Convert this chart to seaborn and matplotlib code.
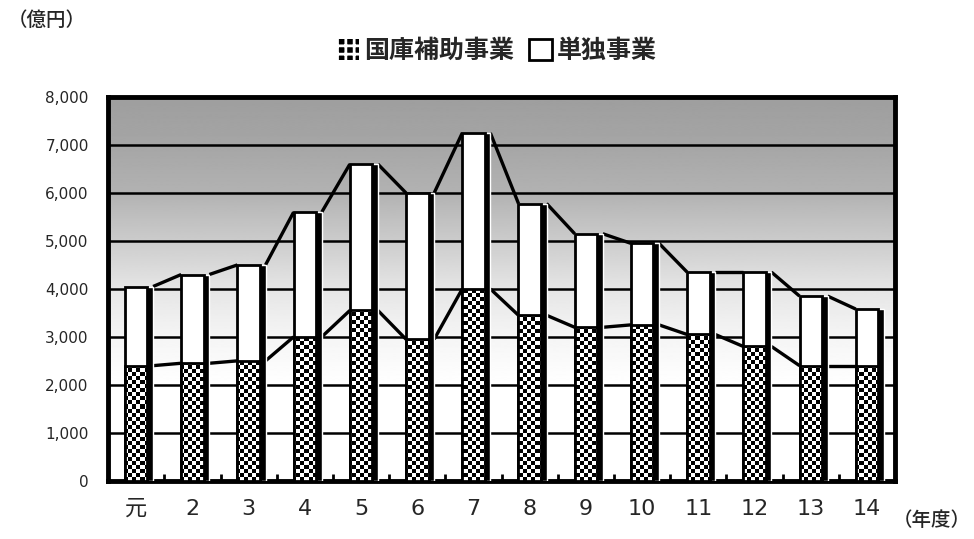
import numpy as np
import pandas as pd
import matplotlib
matplotlib.use("Agg")
import matplotlib.pyplot as plt
import seaborn as sns
from matplotlib.patches import Patch

# 年度別事業費（億円）
years = ["元", "2", "3", "4", "5", "6", "7", "8", "9", "10", "11", "12", "13", "14"]
subsidized = [2400, 2450, 2500, 3000, 3550, 2950, 4000, 3450, 3200, 3250, 3050, 2800, 2400, 2400]
independent = [1650, 1850, 2000, 2600, 3050, 3050, 3250, 2330, 1950, 1700, 1300, 1550, 1450, 1180]
y_ticks = [0, 1000, 2000, 3000, 4000, 5000, 6000, 7000, 8000]

sns.set_theme(style="white")
plt.rcParams["font.family"] = ["Noto Sans CJK JP", "DejaVu Sans"]
num_font = ["DejaVu Sans", "Noto Sans CJK JP"]

df = pd.DataFrame({"年度": years, "国庫補助事業": subsidized, "単独事業": independent})
df["合計"] = df["国庫補助事業"] + df["単独事業"]

fig = plt.figure(figsize=(9.74, 5.39), dpi=100)
ax = fig.add_axes([0.111, 0.108, 0.808, 0.712])

x = np.arange(len(years))
w = 0.40
shadow = 0.10
xlim = (-0.5, len(years) - 0.5)
ylim = (0, 8000)

# 合計（単独事業の上端）の白い棒と右側の影
ax.bar(x + shadow, df["合計"], width=w, color="black", zorder=3)
sns.barplot(data=df, x="年度", y="合計", color="white", saturation=1, width=w,
            edgecolor="black", linewidth=2, errorbar=None, ax=ax, zorder=4)

# 国庫補助事業：棒の中を市松模様で塗る
sns.barplot(data=df, x="年度", y="国庫補助事業", color="black", saturation=1, width=w,
            linewidth=0, errorbar=None, ax=ax, zorder=5)
sub_bars = ax.containers[-1]
cols, rows = 197, 96
checker = (np.add.outer(np.arange(rows), np.arange(cols)) % 2).astype(float)
for rect in sub_bars:
    im = ax.imshow(checker, extent=(*xlim, *ylim), origin="lower", aspect="auto",
                   cmap="gray", vmin=0, vmax=1, interpolation="nearest", zorder=5.5)
    im.set_clip_path(rect)
ax.bar(x, df["国庫補助事業"], width=w, fill=False, edgecolor="black", linewidth=2, zorder=6)

# 区分線
for series in (df["合計"].to_numpy(), df["国庫補助事業"].to_numpy()):
    for i in range(len(x) - 1):
        ax.plot([x[i] + w / 2 + shadow, x[i + 1] - w / 2], [series[i], series[i + 1]],
                color="black", lw=2.4, zorder=2, solid_capstyle="butt")

# 背景のグラデーション
levels_y = np.linspace(0, 8000, 400)
shade = np.interp(levels_y, [0, 2000, 3000, 4000, 5000, 6000, 7000, 8000],
                  [1.0, 1.0, 0.96, 0.9, 0.8, 0.7, 0.65, 0.62])
ax.imshow(shade[:, None], extent=(*xlim, *ylim), origin="lower", aspect="auto",
          cmap="gray", vmin=0, vmax=1, zorder=0.1, interpolation="bilinear")

ax.set_axisbelow(True)
ax.yaxis.grid(True, color="black", lw=1.8)
ax.xaxis.grid(False)

ax.set_xlim(*xlim)
ax.set_ylim(*ylim)
ax.set_yticks(y_ticks)
ax.set_yticklabels([f"{v:,}" for v in y_ticks], fontsize=11, family=num_font)
ax.set_xticks(x)
ax.set_xticklabels(years, fontsize=16, family=num_font)
ax.set_xticks(x[:-1] + 0.5, minor=True)
ax.tick_params(axis="x", which="major", length=0, pad=13)
ax.tick_params(axis="x", which="minor", direction="in", length=5, width=2, color="black", bottom=True)
ax.tick_params(axis="y", length=0, pad=14)
ax.set_xlabel("")
ax.set_ylabel("")
for s in ax.spines.values():
    s.set_visible(True)
    s.set_color("black")
    s.set_linewidth(3.5)

fig.text(0.008, 0.962, "（億円）", fontsize=14, va="center", ha="left", fontweight="medium")
fig.text(0.997, 0.035, "（年度）", fontsize=14, va="center", ha="right", fontweight="medium")

plt.rcParams["hatch.linewidth"] = 2.0
handles = [Patch(facecolor="black", edgecolor="white", hatch="++", linewidth=0),
           Patch(facecolor="white", edgecolor="black", linewidth=2)]
fig.legend(handles, ["国庫補助事業", "単独事業"], loc="center", bbox_to_anchor=(0.51, 0.905),
           ncol=2, frameon=False, handlelength=0.9, handleheight=0.9, columnspacing=0.6,
           handletextpad=0.2, prop={"size": 18, "weight": "bold"})

fig.savefig("out.png", dpi=100)
